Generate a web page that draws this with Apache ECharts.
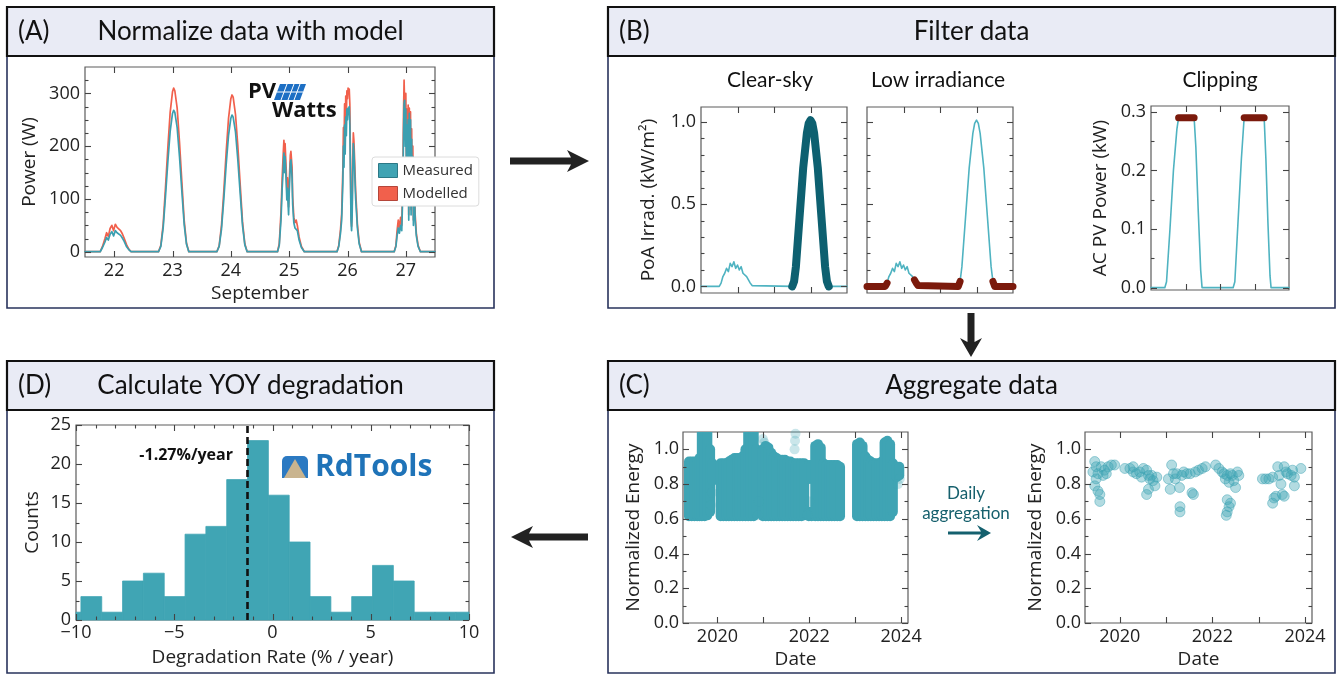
<!DOCTYPE html>
<html>
<head>
<meta charset="utf-8">
<script src="https://cdn.jsdelivr.net/npm/echarts@6/dist/echarts.min.js"></script>
<style>
  html, body { margin: 0; padding: 0; background: #fff; }
  #chart { width: 1341px; height: 675px; }
</style>
</head>
<body>
<div id="chart"></div>
<script>
// ---- (A) PVWatts normalisation : power in W, time in days of September
const timesA = [
  21.5, 21.76, 21.8, 21.84, 21.87, 21.9, 21.93, 21.96, 21.99, 22.02, 22.05, 22.08, 22.11, 22.14, 22.17, 22.21, 22.25, 22.29,
  22.76, 22.8, 22.84, 22.88, 22.92, 22.96, 23.0, 23.02, 23.04, 23.08, 23.12, 23.16, 23.2, 23.24, 23.28,
  23.76, 23.8, 23.84, 23.88, 23.92, 23.96, 24.0, 24.02, 24.04, 24.08, 24.12, 24.16, 24.2, 24.24, 24.28,
  24.8, 24.83, 24.86, 24.88, 24.9, 24.91, 24.92, 24.93, 24.95, 24.96, 24.97, 24.99, 25.0, 25.02, 25.03, 25.05, 25.06, 25.08, 25.1, 25.12, 25.14, 25.17, 25.21, 25.26,
  25.82, 25.85, 25.88, 25.9, 25.92, 25.93, 25.94, 25.95, 25.96, 25.97, 25.98, 25.99, 26.0, 26.01, 26.02, 26.03, 26.04, 26.05, 26.06, 26.07, 26.08, 26.09, 26.1, 26.11, 26.12, 26.14, 26.17, 26.2, 26.24,
  26.8, 26.83, 26.85, 26.87, 26.89, 26.91, 26.93, 26.95, 26.96, 26.97, 26.98, 26.99, 27.0, 27.01, 27.02, 27.03, 27.04, 27.05, 27.06, 27.07, 27.08, 27.09, 27.1, 27.11, 27.12, 27.13, 27.14, 27.16, 27.18, 27.21, 27.25, 27.5
];
const measuredA = [
  0, 0, 8, 18, 27, 22, 33, 38, 30, 40, 36, 38, 31, 26, 20, 10, 4, 0,
  0, 10, 45, 105, 170, 228, 262, 268, 264, 235, 180, 115, 52, 14, 0,
  0, 10, 43, 100, 165, 220, 253, 259, 255, 227, 174, 111, 50, 13, 0,
  0, 12, 60, 120, 160, 187, 150, 180, 130, 98, 120, 70, 110, 168, 174, 140, 90, 55, 45, 48, 40, 22, 8, 0,
  0, 10, 35, 60, 130, 200, 160, 240, 185, 255, 220, 270, 250, 272, 260, 275, 240, 150, 60, 40, 70, 150, 205, 190, 160, 100, 45, 15, 0,
  0, 10, 30, 45, 35, 50, 40, 120, 220, 280, 287, 200, 270, 150, 240, 90, 250, 60, 262, 110, 250, 70, 213, 90, 180, 50, 150, 60, 30, 10, 0, 0
];
const modelledA = [
  0, 0, 10, 24, 36, 29, 44, 50, 40, 52, 46, 48, 40, 34, 26, 14, 5, 0,
  0, 12, 52, 122, 197, 264, 303, 310, 305, 272, 208, 133, 60, 16, 0,
  0, 11, 50, 115, 189, 252, 290, 297, 293, 260, 200, 128, 57, 15, 0,
  0, 15, 75, 140, 190, 211, 175, 205, 155, 115, 140, 85, 130, 183, 190, 160, 105, 65, 55, 60, 50, 28, 10, 0,
  0, 12, 42, 72, 155, 235, 190, 280, 220, 295, 260, 305, 290, 310, 300, 308, 280, 175, 70, 48, 85, 175, 225, 210, 180, 115, 52, 18, 0,
  0, 12, 40, 60, 45, 65, 50, 150, 260, 325, 328, 230, 300, 170, 270, 105, 278, 70, 272, 125, 265, 80, 233, 100, 200, 60, 165, 70, 35, 12, 0, 0
];
const daysA = [22, 23, 24, 25, 26, 27];
const powerTicksA = [0, 100, 200, 300];
const powerMinorA = [25, 50, 75, 125, 150, 175, 225, 250, 275, 325];

// ---- (B) filters : irradiance (kW/m2) and AC power (kW) over two days
const irrTime = [0, 0.5, 0.55, 0.6, 0.65, 0.7, 0.75, 0.8, 0.85, 0.9, 0.95, 1.0, 1.05, 1.1, 1.15, 1.2, 1.25, 1.3, 1.35, 1.4,
  1.45, 2.5, 2.55, 2.6, 2.7, 2.8, 2.9, 2.95, 3.0, 3.05, 3.1, 3.2, 3.3, 3.4, 3.45, 3.5, 4.0];
const irrValue = [0, 0, 0.02, 0.06, 0.08, 0.11, 0.09, 0.14, 0.12, 0.15, 0.11, 0.13, 0.10, 0.12, 0.08, 0.09, 0.06, 0.04, 0.02, 0.005,
  0, 0, 0.03, 0.12, 0.42, 0.72, 0.93, 0.99, 1.01, 0.99, 0.93, 0.72, 0.42, 0.12, 0.03, 0, 0];
const clearSkyWindow = [2.5, 3.5];
const lowIrrLimit = 0.06;
const powTime = [0, 0.4, 0.45, 0.55, 0.65, 0.75, 0.8, 1.0, 1.25, 1.3, 1.37, 1.44, 1.48, 2.38, 2.43, 2.52, 2.62, 2.7, 3.0, 3.28,
  3.33, 3.39, 3.45, 3.48, 4.0];
const powValue = [0, 0, 0.01, 0.1, 0.2, 0.27, 0.29, 0.29, 0.29, 0.24, 0.13, 0.03, 0, 0, 0.01, 0.11, 0.22, 0.29, 0.29, 0.29,
  0.22, 0.11, 0.02, 0, 0];
const clipLimit = 0.285;
const hourTicksB = [1, 2, 3];
const irrTicks = [0, 0.5, 1.0];
const irrMinor = [0.1, 0.2, 0.3, 0.4, 0.6, 0.7, 0.8, 0.9];
const powTicks = [0, 0.1, 0.2, 0.3];
const powMinor = [0.05, 0.15, 0.25];

// ---- (C) normalized energy : [year, low, high] extent of the raw point cloud
const rawBands = [
  [2019.38, 0.615, 0.93], [2019.44, 0.615, 0.93], [2019.50, 0.615, 0.93], [2019.56, 0.615, 0.93], [2019.61, 0.615, 0.95],
  [2019.66, 0.615, 1.15], [2019.72, 0.615, 1.15], [2019.78, 0.62, 1.15], [2019.84, 0.64, 1.0], [2019.89, 0.82, 0.92],
  [2020.07, 0.615, 0.92], [2020.13, 0.615, 0.92], [2020.19, 0.615, 0.92], [2020.25, 0.615, 0.93], [2020.31, 0.615, 0.94],
  [2020.37, 0.615, 0.95], [2020.43, 0.615, 0.95], [2020.49, 0.615, 0.95], [2020.55, 0.615, 0.96], [2020.61, 0.615, 1.0],
  [2020.67, 0.615, 1.15], [2020.73, 0.615, 1.15], [2020.79, 0.615, 1.15], [2020.85, 0.63, 1.0],
  [2020.99, 0.615, 1.0], [2021.05, 0.615, 1.02], [2021.11, 0.615, 1.01], [2021.17, 0.615, 0.98], [2021.23, 0.615, 0.96],
  [2021.29, 0.615, 0.95], [2021.35, 0.615, 0.94], [2021.41, 0.615, 0.94], [2021.47, 0.615, 0.94], [2021.53, 0.615, 0.93],
  [2021.59, 0.615, 0.93], [2021.65, 0.615, 0.92], [2021.71, 0.615, 0.92], [2021.77, 0.615, 0.92], [2021.83, 0.615, 0.92],
  [2021.89, 0.62, 0.92],
  [2021.99, 0.615, 0.64], [2021.99, 0.83, 0.91], [2022.05, 0.615, 0.64], [2022.05, 0.83, 0.91],
  [2022.13, 0.615, 1.02], [2022.19, 0.615, 1.03], [2022.25, 0.615, 1.01], [2022.31, 0.615, 0.92], [2022.37, 0.615, 0.91],
  [2022.43, 0.615, 0.91], [2022.49, 0.615, 0.91], [2022.55, 0.615, 0.91], [2022.61, 0.615, 0.91], [2022.67, 0.615, 0.90],
  [2023.04, 0.615, 1.03], [2023.10, 0.615, 1.04], [2023.16, 0.615, 1.02], [2023.22, 0.615, 0.96], [2023.28, 0.615, 0.94],
  [2023.34, 0.615, 0.93], [2023.40, 0.615, 0.92], [2023.46, 0.615, 0.92], [2023.52, 0.615, 0.92], [2023.58, 0.615, 0.93],
  [2023.64, 0.615, 1.04], [2023.70, 0.615, 1.05], [2023.76, 0.615, 1.03], [2023.82, 0.64, 0.92], [2023.90, 0.84, 0.9],
  [2023.96, 0.85, 0.9]
];
const rawStrays = [
  [2019.86, 0.68], [2019.88, 0.75], [2020.88, 0.62], [2020.9, 0.7], [2020.99, 1.06], [2021.02, 1.04],
  [2021.68, 1.0], [2021.69, 1.05], [2021.70, 1.09], [2021.96, 0.62], [2022.0, 0.7], [2023.93, 0.8], [2023.97, 0.83]
];
const dailyPoints = [
  [2019.46, 0.93], [2019.42, 0.87], [2019.49, 0.83], [2019.46, 0.79], [2019.53, 0.76], [2019.57, 0.70], [2019.57, 0.74],
  [2019.64, 0.85], [2019.67, 0.88], [2019.75, 0.90], [2019.82, 0.91], [2019.89, 0.91], [2019.60, 0.90], [2019.71, 0.86],
  [2019.49, 0.90], [2019.53, 0.86],
  [2020.11, 0.89], [2020.22, 0.89], [2020.29, 0.87], [2020.36, 0.86], [2020.43, 0.87], [2020.51, 0.89], [2020.58, 0.88],
  [2020.62, 0.85], [2020.65, 0.83], [2020.58, 0.74], [2020.62, 0.77], [2020.72, 0.82], [2020.76, 0.79], [2020.80, 0.84],
  [2020.69, 0.85], [2020.47, 0.84], [2020.29, 0.90],
  [2021.05, 0.83], [2021.12, 0.91], [2021.09, 0.77], [2021.16, 0.86], [2021.23, 0.86], [2021.29, 0.78], [2021.30, 0.67],
  [2021.30, 0.64], [2021.45, 0.86], [2021.56, 0.75], [2021.59, 0.74], [2021.52, 0.86], [2021.63, 0.87], [2021.70, 0.88],
  [2021.78, 0.89], [2021.85, 0.90], [2021.38, 0.87], [2021.34, 0.85], [2021.20, 0.83],
  [2022.07, 0.91], [2022.14, 0.89], [2022.21, 0.87], [2022.25, 0.86], [2022.28, 0.83], [2022.32, 0.85], [2022.36, 0.81],
  [2022.32, 0.71], [2022.36, 0.67], [2022.32, 0.64], [2022.30, 0.62], [2022.39, 0.69], [2022.43, 0.85], [2022.46, 0.82],
  [2022.50, 0.78], [2022.54, 0.87], [2022.57, 0.85], [2022.39, 0.86],
  [2023.08, 0.83], [2023.15, 0.83], [2023.22, 0.83], [2023.30, 0.84], [2023.30, 0.69], [2023.33, 0.72], [2023.37, 0.73],
  [2023.41, 0.90], [2023.44, 0.85], [2023.48, 0.80], [2023.51, 0.74], [2023.55, 0.73], [2023.55, 0.90], [2023.59, 0.87],
  [2023.62, 0.86], [2023.70, 0.85], [2023.73, 0.88], [2023.77, 0.84], [2023.77, 0.79], [2023.91, 0.89]
];
const yearTicks = [2020, 2021, 2022, 2023, 2024];
const yearLabels = [2020, 2022, 2024];
const energyTicks = [0, 0.2, 0.4, 0.6, 0.8, 1.0];
const energyMinor = [0.1, 0.3, 0.5, 0.7, 0.9];

// ---- (D) YOY degradation histogram
const binEdges = [-10.81, -9.75, -8.69, -7.63, -6.57, -5.51, -4.45, -3.39, -2.33, -1.27, -0.21,
  0.85, 1.91, 2.97, 4.03, 5.09, 6.15, 7.21, 8.27, 9.33, 10.39];
const binCounts = [1, 3, 1, 5, 6, 3, 11, 12, 18, 23, 16, 10, 3, 1, 3, 7, 5, 1, 1, 1];
const medianRate = -1.27;
const rateTicks = [-10, -5, 0, 5, 10];
const rateMinor = [-9, -8, -7, -6, -4, -3, -2, -1, 1, 2, 3, 4, 6, 7, 8, 9];
const countTicks = [0, 5, 10, 15, 20, 25];
const countMinor = [2.5, 7.5, 12.5, 17.5, 22.5];

const FONT = 'Open Sans';
const HEAD = 'Lato';
const TEAL = '#3fa4b4';

const grids = [];
const xAxes = [];
const yAxes = [];
const tickSeries = [];

function axis(gi, s, pos) {
  const a = {
    type: 'value', gridIndex: gi, position: pos, min: s.min, max: s.max,
    axisLine: { show: false, onZero: false },
    splitLine: { show: false },
    axisTick: { show: false },
    axisLabel: { show: false }
  };
  if (s.labels) {
    a.axisLabel = { show: true, customValues: s.labels.slice(), formatter: s.fmt || (v => String(v)), fontFamily: FONT, fontSize: 18, color: '#222', margin: s.margin || 5 };
  }
  if (s.name) {
    a.name = s.name;
    a.nameLocation = 'middle';
    a.nameGap = s.nameGap;
    a.nameTextStyle = { fontFamily: FONT, fontSize: 19, color: '#222' };
  }
  return a;
}

// matplotlib-style inward ticks on all four sides, placed through the grid's own scales
function ticksFor(p, xs, ys) {
  const rows = [];
  xs.ticks.forEach(v => rows.push([v, 0]));
  (xs.minor || []).forEach(v => rows.push([v, 1]));
  ys.ticks.forEach(v => rows.push([v, 2]));
  (ys.minor || []).forEach(v => rows.push([v, 3]));
  return {
    type: 'custom', xAxisIndex: p.x, yAxisIndex: p.y, data: rows, silent: true, clip: false, z: 3,
    renderItem: (params, api) => {
      const cs = params.coordSys;
      const v = api.value(0);
      const kind = api.value(1);
      const len = kind % 2 === 0 ? 6 : 3.5;
      const st = { stroke: '#444', lineWidth: 1.1 };
      if (kind < 2) {
        const x = Math.round(api.coord([v, ys.min])[0]) + 0.5;
        return { type: 'group', children: [
          { type: 'line', shape: { x1: x, y1: cs.y + cs.height, x2: x, y2: cs.y + cs.height - len }, style: st },
          { type: 'line', shape: { x1: x, y1: cs.y, x2: x, y2: cs.y + len }, style: st }
        ] };
      }
      const y = Math.round(api.coord([xs.min, v])[1]) + 0.5;
      return { type: 'group', children: [
        { type: 'line', shape: { x1: cs.x, y1: y, x2: cs.x + len, y2: y }, style: st },
        { type: 'line', shape: { x1: cs.x + cs.width, y1: y, x2: cs.x + cs.width - len, y2: y }, style: st }
      ] };
    }
  };
}

function addPlot(box, xs, ys) {
  const gi = grids.length;
  grids.push({ left: box[0], top: box[1], width: box[2], height: box[3], show: true, borderColor: '#5c5c5c', borderWidth: 1.2, backgroundColor: 'transparent' });
  const p = { x: xAxes.length, y: yAxes.length };
  xAxes.push(axis(gi, xs, 'bottom'));
  yAxes.push(axis(gi, ys, 'left'));
  tickSeries.push(ticksFor(p, xs, ys));
  return p;
}

const f1 = v => v.toFixed(1);
const fInt = v => String(v).replace('-', '\u2212');

const pA = addPlot([85, 67, 350, 190],
  { min: 21.5, max: 27.5, ticks: daysA, labels: daysA, name: 'September', nameGap: 27 },
  { min: -10, max: 350, ticks: powerTicksA, minor: powerMinorA, labels: powerTicksA, name: 'Power (W)', nameGap: 46 });
const pB1 = addPlot([701, 107, 146, 186],
  { min: 0, max: 4, ticks: hourTicksB },
  { min: -0.04, max: 1.09, ticks: irrTicks, minor: irrMinor, labels: irrTicks, fmt: f1, name: 'PoA Irrad. (kW/m\u00b2)', nameGap: 43 });
const pB2 = addPlot([867, 107, 146, 186],
  { min: 0, max: 4, ticks: hourTicksB },
  { min: -0.04, max: 1.09, ticks: irrTicks, minor: irrMinor });
const pB3 = addPlot([1151, 106, 138, 184],
  { min: 0, max: 4, ticks: hourTicksB },
  { min: -0.004, max: 0.31, ticks: powTicks, minor: powMinor, labels: powTicks, fmt: f1, name: 'AC PV Power (kW)', nameGap: 41 });
const pC1 = addPlot([683, 432, 225, 191],
  { min: 2019.25, max: 2024.15, ticks: yearTicks, labels: yearLabels, name: 'Date', nameGap: 27 },
  { min: 0, max: 1.1, ticks: energyTicks, minor: energyMinor, labels: energyTicks, fmt: f1, name: 'Normalized Energy', nameGap: 40, margin: 4 });
const pC2 = addPlot([1085, 432, 227, 191],
  { min: 2019.25, max: 2024.15, ticks: yearTicks, labels: yearLabels, name: 'Date', nameGap: 27 },
  { min: 0, max: 1.1, ticks: energyTicks, minor: energyMinor, labels: energyTicks, fmt: f1, name: 'Normalized Energy', nameGap: 40, margin: 4 });
const pD = addPlot([76, 425, 393, 195],
  { min: -10, max: 10, ticks: rateTicks, minor: rateMinor, labels: rateTicks, fmt: fInt, name: 'Degradation Rate (% / year)', nameGap: 28, margin: 4 },
  { min: 0, max: 25, ticks: countTicks, minor: countMinor, labels: countTicks, name: 'Counts', nameGap: 34 });

const zip = (xs, ys) => xs.map((x, i) => [x, ys[i]]);
const irradiance = zip(irrTime, irrValue);
const power = zip(powTime, powValue);
const clearSky = irradiance.filter(p => p[0] >= clearSkyWindow[0] && p[0] <= clearSkyWindow[1]);
const lowIrr = irradiance.map(p => (p[1] < lowIrrLimit ? p : [p[0], '-']));
const clipped = power.map(p => (p[1] >= clipLimit ? p : [p[0], '-']));
const histRows = binCounts.map((c, i) => [binEdges[i], binEdges[i + 1], c]);

function lineSeries(p, data, color, width, z) {
  return {
    type: 'line', xAxisIndex: p.x, yAxisIndex: p.y, data: data, showSymbol: false, symbol: 'none',
    connectNulls: false, silent: true, z: z || 2,
    lineStyle: { color: color, width: width, cap: 'round', join: 'round' }, itemStyle: { color: color }
  };
}

const series = [
  Object.assign(lineSeries(pA, zip(timesA, modelledA), '#f1604c', 1.7), { name: 'Modelled' }),
  Object.assign(lineSeries(pA, zip(timesA, measuredA), '#3b9fb0', 1.7), { name: 'Measured' }),
  lineSeries(pB1, irradiance, '#4fb3c1', 1.6),
  lineSeries(pB1, clearSky, '#0d6070', 8, 3),
  lineSeries(pB2, irradiance, '#4fb3c1', 1.6),
  lineSeries(pB2, lowIrr, '#7b1a0c', 7, 3),
  lineSeries(pB3, power, '#4fb3c1', 1.6),
  lineSeries(pB3, clipped, '#7b1a0c', 7, 3),
  {
    type: 'custom', xAxisIndex: pC1.x, yAxisIndex: pC1.y, data: rawBands, clip: true, silent: true,
    encode: { x: 0, y: [1, 2] },
    renderItem: (params, api) => {
      const hi = api.coord([api.value(0), api.value(2)]);
      const lo = api.coord([api.value(0), api.value(1)]);
      const r = 5;
      return { type: 'rect', shape: { x: hi[0] - r, y: hi[1] - r, width: 2 * r, height: lo[1] - hi[1] + 2 * r, r: r }, style: { fill: TEAL } };
    }
  },
  {
    type: 'scatter', xAxisIndex: pC1.x, yAxisIndex: pC1.y, data: rawStrays, symbolSize: 10, silent: true,
    itemStyle: { color: 'rgba(63,164,180,0.35)' }
  },
  {
    type: 'scatter', xAxisIndex: pC2.x, yAxisIndex: pC2.y, data: dailyPoints, symbolSize: 10, silent: true,
    itemStyle: { color: 'rgba(63,164,180,0.5)', borderColor: 'rgba(63,164,180,0.6)', borderWidth: 1 }
  },
  {
    type: 'custom', xAxisIndex: pD.x, yAxisIndex: pD.y, data: histRows, silent: true,
    encode: { x: [0, 1], y: 2 },
    renderItem: (params, api) => {
      const x0 = Math.max(api.value(0), -10);
      const x1 = Math.min(api.value(1), 10);
      const top = api.coord([x0, api.value(2)]);
      const bot = api.coord([x1, 0]);
      return { type: 'rect', shape: { x: top[0], y: top[1], width: bot[0] - top[0], height: bot[1] - top[1] }, style: { fill: '#40a5b4', stroke: '#40a5b4', lineWidth: 0.8 } };
    },
    markLine: {
      silent: true, symbol: 'none', animation: false,
      lineStyle: { type: [7, 4], color: '#111', width: 2.6 },
      label: { show: false },
      data: [{ xAxis: medianRate }]
    }
  }
].concat(tickSeries);

// panel frames with header bars (body is outline only, the page is already white)
function panel(x0, y0, x1, y1, letter, title) {
  return [
    { type: 'rect', shape: { x: x0, y: y0, width: x1 - x0, height: y1 - y0 }, style: { fill: null, stroke: '#28335c', lineWidth: 1.6 } },
    { type: 'rect', shape: { x: x0, y: y0, width: x1 - x0, height: 49 }, style: { fill: '#e9ebf5', stroke: '#111', lineWidth: 2.2 } },
    { type: 'text', x: x0 + 11, y: y0 + 25, style: { text: '(' + letter + ')', font: '26px ' + HEAD, fill: '#111', verticalAlign: 'middle' } },
    { type: 'text', x: (x0 + x1) / 2, y: y0 + 25, style: { text: title, font: '26px ' + HEAD, fill: '#111', align: 'center', verticalAlign: 'middle' } }
  ];
}

function label(x, y, text, font, color, align) {
  return { type: 'text', x: x, y: y, style: { text: text, font: font, fill: color || '#111', align: align || 'center', verticalAlign: 'middle' } };
}

const graphics = [].concat(
  panel(7, 7, 494, 308, 'A', 'Normalize data with model'),
  panel(608, 7, 1335, 308, 'B', 'Filter data'),
  panel(7, 361, 494, 673, 'D', 'Calculate YOY degradation'),
  panel(608, 361, 1335, 673, 'C', 'Aggregate data'),
  [
    // flow arrows
    { type: 'polygon', shape: { points: [[510, 157.5], [571, 157.5], [567, 150], [589, 161], [567, 172], [571, 164.5], [510, 164.5]] }, style: { fill: '#222' } },
    { type: 'polygon', shape: { points: [[967.5, 313], [974.5, 313], [974.5, 342], [982, 338], [971, 357], [960, 338], [967.5, 342]] }, style: { fill: '#222' } },
    { type: 'polygon', shape: { points: [[588, 533.5], [529, 533.5], [533, 526], [511, 537], [533, 548], [529, 540.5], [588, 540.5]] }, style: { fill: '#222' } },
    // subplot titles of panel B
    label(770, 80, 'Clear-sky', '21px ' + HEAD),
    label(938, 80, 'Low irradiance', '21px ' + HEAD),
    label(1220, 80, 'Clipping', '21px ' + HEAD),
    // daily aggregation note
    label(966, 494, 'Daily', '17px ' + HEAD, '#16606d'),
    label(966, 514, 'aggregation', '17px ' + HEAD, '#16606d'),
    { type: 'polygon', shape: { points: [[948, 531.5], [981, 531.5], [977, 525], [991, 533], [977, 541], [981, 534.5], [948, 534.5]] }, style: { fill: '#14606e' } },
    // median label
    label(233, 455, medianRate.toFixed(2) + '%/year', 'bold 16px ' + FONT, '#111', 'right'),
    // RdTools logo
    { type: 'rect', shape: { x: 282, y: 456, width: 26, height: 22, r: [5, 5, 0, 0] }, style: { fill: '#2b79c2' } },
    { type: 'polygon', shape: { points: [[284, 478], [295, 459], [306, 478]] }, style: { fill: '#c9b48f' } },
    label(315, 467, 'RdTools', 'bold 30px ' + FONT, '#1f73b8', 'left'),
    // PVWatts logo
    label(248, 92, 'PV', 'bold 22px ' + FONT, '#111', 'left'),
    { type: 'polygon', shape: { points: [[274, 100], [280, 84], [306, 84], [300, 100]] }, style: { fill: '#1d6fc4' } },
    { type: 'polyline', shape: { points: [[277, 92], [303, 92]] }, style: { stroke: '#fff', lineWidth: 1 } },
    { type: 'polyline', shape: { points: [[281, 100], [287, 84]] }, style: { stroke: '#fff', lineWidth: 1 } },
    { type: 'polyline', shape: { points: [[288, 100], [294, 84]] }, style: { stroke: '#fff', lineWidth: 1 } },
    { type: 'polyline', shape: { points: [[294, 100], [300, 84]] }, style: { stroke: '#fff', lineWidth: 1 } },
    label(272, 111, 'Watts', 'bold 22px ' + FONT, '#111', 'left')
  ]
);

const chart = echarts.init(document.getElementById('chart'));
chart.setOption({
  animation: false,
  backgroundColor: '#fff',
  textStyle: { fontFamily: FONT },
  grid: grids,
  xAxis: xAxes,
  yAxis: yAxes,
  legend: {
    data: [
      { name: 'Measured', icon: 'rect', itemStyle: { color: '#40a3b3', borderColor: '#2c7886', borderWidth: 1 } },
      { name: 'Modelled', icon: 'rect', itemStyle: { color: '#f1604c', borderColor: '#b5463a', borderWidth: 1 } }
    ],
    orient: 'vertical', left: 372, top: 157, selectedMode: false, z: 10,
    itemWidth: 19, itemHeight: 14, itemGap: 8,
    backgroundColor: '#fff', borderColor: '#dcdcdc', borderWidth: 1, borderRadius: 3, padding: [6, 6, 5, 6],
    textStyle: { fontFamily: FONT, fontSize: 15, color: '#333' }
  },
  series: series,
  graphic: { elements: graphics }
});
</script>
</body>
</html>
